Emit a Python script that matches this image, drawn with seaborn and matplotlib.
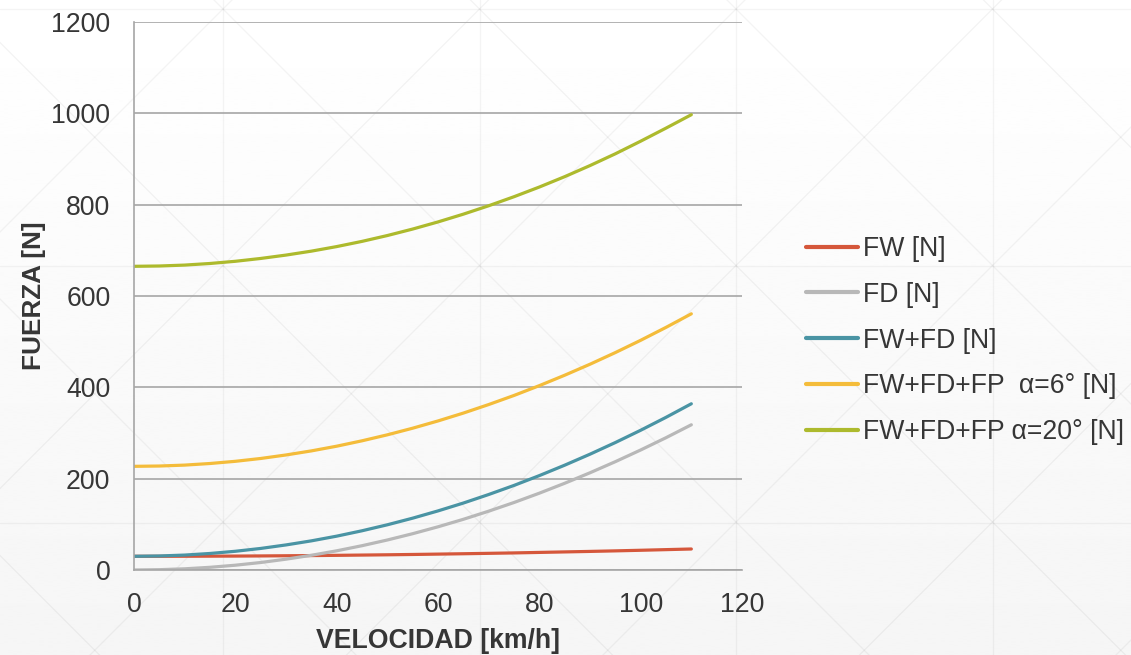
import numpy as np
import pandas as pd
import matplotlib
matplotlib.use("Agg")
import matplotlib.pyplot as plt
import seaborn as sns

# Velocidad [km/h]
velocidad = [0, 5, 10, 15, 20, 25, 30, 35, 40, 45, 50, 55,
             60, 65, 70, 75, 80, 85, 90, 95, 100, 105, 110]

# Fuerzas [N]
fw = [30.0, 30.0, 30.1, 30.3, 30.5, 30.8, 31.2, 31.6, 32.1, 32.7, 33.3, 34.0,
      34.8, 35.6, 36.5, 37.4, 38.5, 39.6, 40.7, 41.9, 43.2, 44.6, 46.0]
fd = [0.0, 0.7, 2.6, 5.9, 10.5, 16.4, 23.7, 32.2, 42.0, 53.2, 65.7, 79.5,
      94.6, 111.0, 128.8, 147.8, 168.2, 189.9, 212.9, 237.2, 262.8, 289.7, 318.0]
fw_fd = [30.0, 30.7, 32.7, 36.2, 41.0, 47.2, 54.9, 63.8, 74.1, 85.9, 99.0, 113.5,
         129.4, 146.6, 165.3, 185.2, 206.7, 229.5, 253.6, 279.1, 306.0, 334.3, 364.0]
fw_fd_fp6 = [227.0, 227.7, 229.7, 233.2, 238.0, 244.2, 251.9, 260.8, 271.1, 282.9,
             296.0, 310.5, 326.4, 343.6, 362.3, 382.2, 403.7, 426.5, 450.6, 476.1,
             503.0, 531.3, 561.0]
fw_fd_fp20 = [665.0, 665.7, 667.7, 671.2, 676.0, 682.2, 689.6, 698.2, 708.2, 719.6,
              732.4, 746.6, 762.2, 779.2, 797.6, 817.4, 838.6, 861.3, 885.6, 911.4,
              939.0, 967.6, 997.0]

series_names = ["FW [N]", "FD [N]", "FW+FD [N]",
                "FW+FD+FP  α=6° [N]", "FW+FD+FP α=20° [N]"]
series_values = [fw, fd, fw_fd, fw_fd_fp6, fw_fd_fp20]
series_colors = ["#D5573B", "#B8B8B8", "#4A94A4", "#F4BC3A", "#ADBA2D"]

x_ticks = [0, 20, 40, 60, 80, 100, 120]
y_ticks = [0, 200, 400, 600, 800, 1000, 1200]

df = pd.concat(
    [pd.DataFrame({"VELOCIDAD [km/h]": velocidad, "FUERZA [N]": vals, "serie": name})
     for name, vals in zip(series_names, series_values)],
    ignore_index=True,
)

sns.set_theme(style="white")
plt.rcParams["font.family"] = ["Liberation Sans", "DejaVu Sans"]
text_color = "#363636"
fs = 19.2

W, H = 1131, 655
fig = plt.figure(figsize=(W / 100, H / 100), dpi=100)

# Background: soft vertical gradient with a faint diamond lattice
bg = fig.add_axes([0, 0, 1, 1], zorder=-10)
grad = np.linspace(1.0, 0.962, 256).reshape(-1, 1)
bg.imshow(grad, cmap="gray", vmin=0, vmax=1, aspect="auto",
          extent=[0, W, H, 0], interpolation="bilinear")
lat_kw = dict(color="black", alpha=0.045, lw=1.0)
cx, cy, step_x, step_y = 223.0, 9.0, 256.5, 257.0
for k in range(-2, 6):
    xv = cx + k * step_x
    bg.plot([xv, xv], [0, H], **lat_kw)
for k in range(-1, 4):
    yv = cy + k * step_y
    bg.plot([0, W], [yv, yv], **lat_kw)
for k in range(-8, 12):
    x0 = cx + k * step_x
    bg.plot([x0 - 2000, x0 + 2000], [cy - 2000, cy + 2000], **lat_kw)
    bg.plot([x0 - 2000, x0 + 2000], [cy + 2000, cy - 2000], **lat_kw)
bg.set_xlim(0, W)
bg.set_ylim(H, 0)
bg.axis("off")

ax = fig.add_axes([134 / W, 1 - 570 / H, (742 - 134) / W, (570 - 22) / H])
ax.set_facecolor("none")

sns.lineplot(
    data=df, x="VELOCIDAD [km/h]", y="FUERZA [N]", hue="serie",
    hue_order=series_names, palette=dict(zip(series_names, series_colors)),
    linewidth=2.3, ax=ax, legend=True, solid_capstyle="round",
)

ax.set_xlim(0, 120)
ax.set_ylim(0, 1200)
ax.set_xticks(x_ticks)
ax.set_yticks(y_ticks)
ax.set_xticklabels([str(v) for v in x_ticks])
ax.set_yticklabels([str(v) for v in y_ticks])
ax.tick_params(axis="both", length=0, labelsize=fs, colors=text_color)
ax.tick_params(axis="x", pad=16)
ax.tick_params(axis="y", pad=17)

ax.yaxis.grid(True, color="#A6A6A6", linewidth=1.2)
ax.xaxis.grid(False)
ax.set_axisbelow(True)
for side in ["top", "right"]:
    ax.spines[side].set_visible(False)
ax.spines["left"].set_color("#A6A6A6")
ax.spines["left"].set_linewidth(1.2)
ax.spines["bottom"].set_color("#A6A6A6")
ax.spines["bottom"].set_linewidth(1.2)

ax.set_xlabel("VELOCIDAD [km/h]", fontsize=fs, fontweight="bold",
              color=text_color, labelpad=7)
ax.set_ylabel("FUERZA [N]", fontsize=18.8, fontweight="bold",
              color=text_color, labelpad=4)

handles, labels = ax.get_legend_handles_labels()
ax.get_legend().remove()
for h in handles:
    h.set_linewidth(3.0)
fig.legend(
    handles, labels, loc="center left", bbox_to_anchor=(806 / W, 1 - 340.5 / H),
    frameon=False, fontsize=fs, handlelength=1.95, handletextpad=0.19,
    labelspacing=0.74, borderpad=0, borderaxespad=0, labelcolor=text_color,
)

fig.savefig("out.png", dpi=100)
